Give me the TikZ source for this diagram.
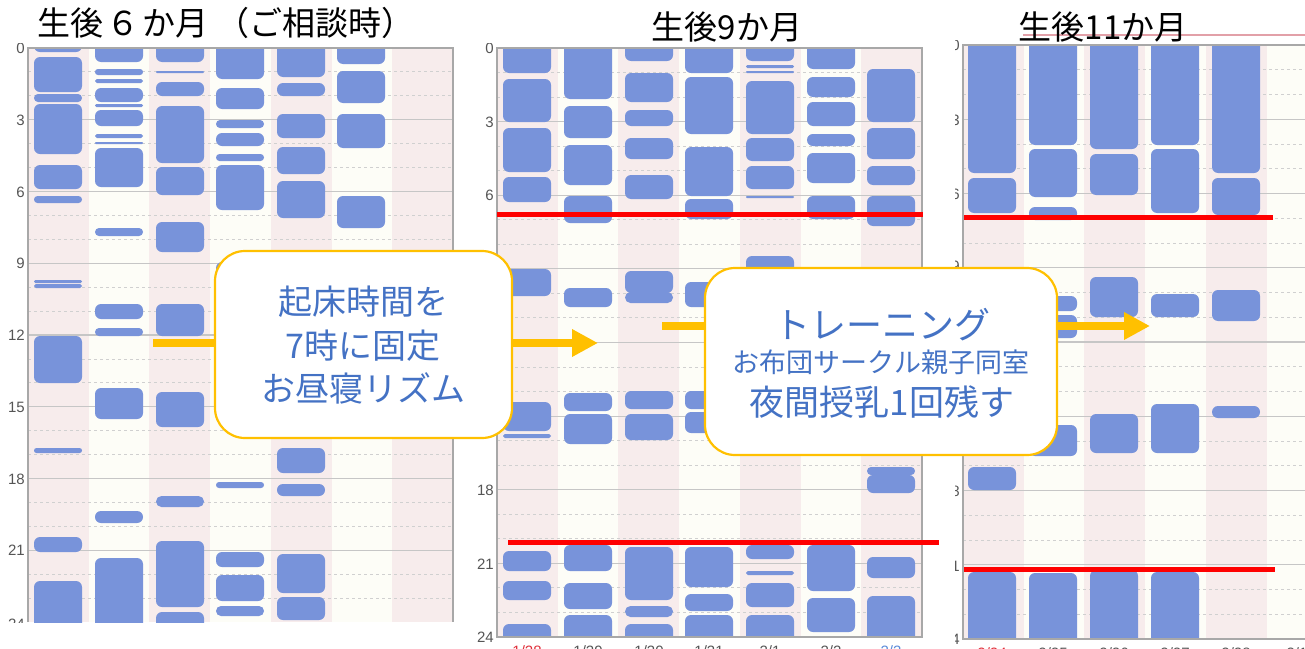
\documentclass[tikz,border=0pt]{standalone}
\usepackage{fontspec}
\setmainfont{Noto Sans CJK JP}
\newfontfamily\labfont{Liberation Sans}
\usetikzlibrary{arrows.meta}
\definecolor{barblue}{HTML}{7893DA}
\definecolor{stripepink}{HTML}{F7ECEC}
\definecolor{stripecream}{HTML}{FDFDF7}
\definecolor{gridsolid}{HTML}{C6C6C6}
\definecolor{griddash}{HTML}{D0D0D0}
\definecolor{gold}{HTML}{FFC000}
\definecolor{calltext}{HTML}{4472C4}
\definecolor{redline}{HTML}{FF0000}
\definecolor{axisgray}{HTML}{A8A8A8}
\definecolor{labgray}{HTML}{555555}
\definecolor{datered}{HTML}{E0303A}
\definecolor{dateblue}{HTML}{5B8BD9}
\definecolor{headpink}{HTML}{E2A0A8}
\newcommand{\zbar}[3]{\pgfmathsetmacro{\zr}{min(6,(#3-#2)/2-0.05)}\fill[barblue,rounded corners=\zr pt] (#1,#2) rectangle (#1+48,#3);}
\newcommand{\zstripes}[4]{\foreach \i in {1,...,#2}{\pgfmathsetmacro{\xa}{#1+(\i-1)*60.7}\ifodd\i\fill[stripepink] (\xa,#3) rectangle (\xa+60.7,#4);\else\fill[stripecream] (\xa,#3) rectangle (\xa+60.7,#4);\fi}}
\newcommand{\zgrid}[4]{\foreach \h in {1,...,23}{\pgfmathsetmacro{\yy}{#3+\h*#4}\pgfmathtruncatemacro{\mm}{mod(\h,3)}\ifnum\mm=0 \draw[gridsolid,line width=1.1pt] (#1,\yy) -- (#2,\yy);\else\draw[griddash,line width=0.9pt,dash pattern=on 3pt off 3pt] (#1,\yy) -- (#2,\yy);\fi}}
\tikzset{
  axisline/.style={axisgray,line width=1.2pt},
  redbar/.style={redline,line width=5pt},
  goldarrow/.style={gold,line width=8pt,-{Triangle[length=26pt,width=26pt]}},
  callbox/.style={draw=gold,line width=2.2pt,fill=white,rounded corners=30pt,inner sep=0},
  calltxt/.style={text=calltext,inner sep=0},
  titletxt/.style={text=black,inner sep=0,font=\fontsize{33}{40}\selectfont},
  axlab/.style={text=labgray,inner sep=0,anchor=east,font=\labfont\fontsize{15}{18}\selectfont},
  datelab/.style={inner sep=0,font=\labfont\fontsize{15}{18}\selectfont},
}
\begin{document}
\begin{tikzpicture}[x=1pt,y=-1pt]
\useasboundingbox (0,0) rectangle (1305,648);
\fill[white] (0,0) rectangle (1305,648);
% ---------------- chart 1 ----------------
\begin{scope}
\clip (28,48) rectangle (453,622);
\zstripes{28}{7}{48}{622}
\zgrid{28}{453}{48}{23.92}
% col1
\zbar{34}{40}{52}\zbar{34}{57}{92}\zbar{34}{94}{102}\zbar{34}{104}{154}\zbar{34}{165}{189}\zbar{34}{196}{203}\zbar{34}{280}{283}\zbar{34}{284}{288}\zbar{34}{336}{383}\zbar{34}{448}{453}\zbar{34}{537}{552}\zbar{34}{581}{635}
% col2
\zbar{95}{40}{62}\zbar{95}{69}{75}\zbar{95}{79}{83}\zbar{95}{88}{102}\zbar{95}{104}{107}\zbar{95}{110}{126}\zbar{95}{134}{138}\zbar{95}{142}{144}\zbar{95}{148}{187}\zbar{95}{228}{236}\zbar{95}{304}{319}\zbar{95}{328}{336}\zbar{95}{388}{419}\zbar{95}{511}{523}\zbar{95}{558}{635}
% col3
\zbar{156}{40}{62}\zbar{156}{71}{73}\zbar{156}{82}{96}\zbar{156}{106}{163}\zbar{156}{167}{195}\zbar{156}{222}{252}\zbar{156}{304}{336}\zbar{156}{392}{427}\zbar{156}{496}{507}\zbar{156}{541}{607}\zbar{156}{612}{635}
% col4
\zbar{216}{40}{79}\zbar{216}{88}{109}\zbar{216}{120}{128}\zbar{216}{133}{146}\zbar{216}{154}{161}\zbar{216}{165}{210}\zbar{216}{262}{300}\zbar{216}{482}{488}\zbar{216}{552}{567}\zbar{216}{575}{601}\zbar{216}{606}{616}
% col5
\zbar{277}{40}{77}\zbar{277}{83}{96}\zbar{277}{114}{138}\zbar{277}{147}{174}\zbar{277}{181}{218}\zbar{277}{448}{473}\zbar{277}{484}{496}\zbar{277}{554}{593}\zbar{277}{597}{620}
% col6
\zbar{337}{40}{64}\zbar{337}{71}{103}\zbar{337}{114}{148}\zbar{337}{196}{228}
\end{scope}
\draw[axisline] (28,622) -- (28,48) -- (453,48) -- (453,622);
\begin{scope}
\clip (0,43) rectangle (30,622);
\node[axlab] (l1a) at (25,48) {0};
\node[axlab] (l1b) at (25,120) {3};
\node[axlab] (l1c) at (25,192) {6};
\node[axlab] (l1d) at (25,263) {9};
\node[axlab] (l1e) at (25,335) {12};
\node[axlab] (l1f) at (25,407) {15};
\node[axlab] (l1g) at (25,479) {18};
\node[axlab] (l1h) at (25,550) {21};
\node[axlab] (l1i) at (25,624) {24};
\end{scope}
% ---------------- chart 2 ----------------
\begin{scope}
\clip (497,48) rectangle (922,637);
\zstripes{497}{7}{48}{637}
\zgrid{497}{922}{48}{24.54}
% col1
\zbar{503}{40}{73}\zbar{503}{79}{122}\zbar{503}{128}{172}\zbar{503}{177}{202}\zbar{503}{269}{296}\zbar{503}{402}{431}\zbar{503}{434}{438}\zbar{503}{551}{571}\zbar{503}{581}{600}\zbar{503}{624}{645}
% col2
\zbar{564}{40}{99}\zbar{564}{106}{138}\zbar{564}{145}{185}\zbar{564}{196}{223}\zbar{564}{288}{307}\zbar{564}{393}{411}\zbar{564}{414}{444}\zbar{564}{545}{571}\zbar{564}{583}{609}\zbar{564}{615}{645}
% col3
\zbar{625}{40}{61}\zbar{625}{73}{102}\zbar{625}{110}{126}\zbar{625}{138}{159}\zbar{625}{175}{199}\zbar{625}{271}{293}\zbar{625}{292}{303}\zbar{625}{391}{409}\zbar{625}{414}{440}\zbar{625}{547}{600}\zbar{625}{606}{617}\zbar{625}{624}{645}
% col4
\zbar{685}{40}{73}\zbar{685}{77}{134}\zbar{685}{147}{196}\zbar{685}{199}{219}\zbar{685}{282}{307}\zbar{685}{391}{409}\zbar{685}{412}{433}\zbar{685}{547}{587}\zbar{685}{594}{611}\zbar{685}{615}{645}
% col5
\zbar{746}{40}{61}\zbar{746}{65}{68}\zbar{746}{71}{73}\zbar{746}{81}{134}\zbar{746}{138}{161}\zbar{746}{166}{189}\zbar{746}{196}{198}\zbar{746}{256}{290}\zbar{746}{545}{559}\zbar{746}{571}{575}\zbar{746}{583}{607}\zbar{746}{615}{645}
% col6
\zbar{807}{40}{69}\zbar{807}{77}{97}\zbar{807}{102}{126}\zbar{807}{134}{146}\zbar{807}{153}{183}\zbar{807}{196}{219}\zbar{807}{545}{591}\zbar{807}{598}{632}
% col7
\zbar{867}{69}{122}\zbar{867}{128}{159}\zbar{867}{166}{185}\zbar{867}{196}{226}\zbar{867}{467}{475}\zbar{867}{475}{493}\zbar{867}{557}{578}\zbar{867}{596}{645}
\end{scope}
\draw[axisline] (497,48) rectangle (922,637);
\begin{scope}
\clip (460,43) rectangle (497,648);
\node[axlab] (l2a) at (494,48) {0};
\node[axlab] (l2b) at (494,122) {3};
\node[axlab] (l2c) at (494,195) {6};
\node[axlab] (l2g) at (494,490) {18};
\node[axlab] (l2h) at (494,564) {21};
\node[axlab] (l2i) at (494,637) {24};
\end{scope}
\node[datelab,text=datered] (d2a) at (527,651) {1/28};
\node[datelab,text=labgray] (d2b) at (588,651) {1/29};
\node[datelab,text=labgray] (d2c) at (649,651) {1/30};
\node[datelab,text=labgray] (d2d) at (709,651) {1/31};
\node[datelab,text=labgray] (d2e) at (770,651) {2/1};
\node[datelab,text=labgray] (d2f) at (831,651) {2/2};
\node[datelab,text=dateblue] (d2g) at (891,651) {2/3};
% ---------------- chart 3 ----------------
\begin{scope}
\clip (963,45) rectangle (1305,639);
\zstripes{963}{6}{45}{639}
\zgrid{963}{1305}{45}{24.75}
\zbar{968}{40}{173}\zbar{968}{178}{213}\zbar{968}{467}{490}\zbar{968}{572}{645}
\zbar{1029}{40}{145}\zbar{1029}{149}{197}\zbar{1029}{207}{220}\zbar{1029}{296}{311}\zbar{1029}{315}{338}\zbar{1029}{425}{456}\zbar{1029}{573}{645}
\zbar{1090}{40}{149}\zbar{1090}{154}{195}\zbar{1090}{277}{317}\zbar{1090}{414}{453}\zbar{1090}{570}{645}
\zbar{1151}{40}{145}\zbar{1151}{149}{213}\zbar{1151}{294}{317}\zbar{1151}{404}{453}\zbar{1151}{572}{645}
\zbar{1212}{40}{173}\zbar{1212}{178}{215}\zbar{1212}{290}{321}\zbar{1212}{406}{418}
\end{scope}
\draw[axisline] (1305,45) -- (963,45) -- (963,639) -- (1305,639);
\begin{scope}
\clip (955,40) rectangle (962,648);
\node[axlab] (l3a) at (960,45) {0};
\node[axlab] (l3b) at (960,120) {3};
\node[axlab] (l3c) at (960,194) {6};
\node[axlab] (l3d) at (960,266) {9};
\node[axlab] (l3g) at (960,491) {18};
\node[axlab] (l3h) at (960,566) {21};
\node[axlab] (l3i) at (960,639) {24};
\end{scope}
\node[datelab,text=datered] (d3a) at (992,653) {2/24};
\node[datelab,text=labgray] (d3b) at (1053,653) {2/25};
\node[datelab,text=labgray] (d3c) at (1114,653) {2/26};
\node[datelab,text=labgray] (d3d) at (1175,653) {2/27};
\node[datelab,text=labgray] (d3e) at (1236,653) {2/28};
\node[datelab,text=labgray] (d3f) at (1297,653) {3/1};
\draw[headpink,line width=1.2pt] (1023,35) -- (1305,35);
% ---------------- red lines ----------------
\coordinate (r1a) at (497,214); \coordinate (r1b) at (923,214);
\coordinate (r2a) at (508,542); \coordinate (r2b) at (939,542);
\coordinate (r3a) at (964,217); \coordinate (r3b) at (1273,217);
\coordinate (r4a) at (964,569); \coordinate (r4b) at (1275,569);
\draw[redbar] (r1a) -- (r1b);
\draw[redbar] (r2a) -- (r2b);
\draw[redbar] (r3a) -- (r3b);
\draw[redbar] (r4a) -- (r4b);
% ---------------- arrows ----------------
\coordinate (a1s) at (153,343); \coordinate (a1e) at (598,343);
\coordinate (a2s) at (662,326); \coordinate (a2e) at (1150,326);
\draw[goldarrow] (a1s) -- (a1e);
\draw[goldarrow] (a2s) -- (a2e);
% ---------------- callouts ----------------
\node[callbox,minimum width=297pt,minimum height=187pt] (cb1) at (363.5,344.5) {};
\node[calltxt,font=\fontsize{34}{40}\selectfont] (cb1a) at (363,302) {起床時間を};
\node[calltxt,font=\fontsize{34}{40}\selectfont] (cb1b) at (363,346) {7時に固定};
\node[calltxt,font=\fontsize{34}{40}\selectfont] (cb1c) at (363,388) {お昼寝リズム};
\node[callbox,minimum width=352pt,minimum height=187pt] (cb2) at (881,361.5) {};
\node[calltxt,font=\fontsize{36}{42}\selectfont] (cb2a) at (882,325) {トレーニング};
\node[calltxt,font=\fontsize{27}{32}\selectfont] (cb2b) at (881,362) {お布団サークル親子同室};
\node[calltxt,font=\fontsize{35}{40}\selectfont] (cb2c) at (882,402) {夜間授乳1回残す};
% ---------------- titles ----------------
\node[titletxt,font=\fontsize{33}{40}\selectfont] (t1) at (226,23) {生後\hspace{3pt}６\hspace{3pt}か月\hspace{8pt}（ご相談時）};
\node[titletxt] (t2) at (727,27) {生後9か月};
\node[titletxt] (t3) at (1103,27) {生後11か月};
\end{tikzpicture}
\end{document}
